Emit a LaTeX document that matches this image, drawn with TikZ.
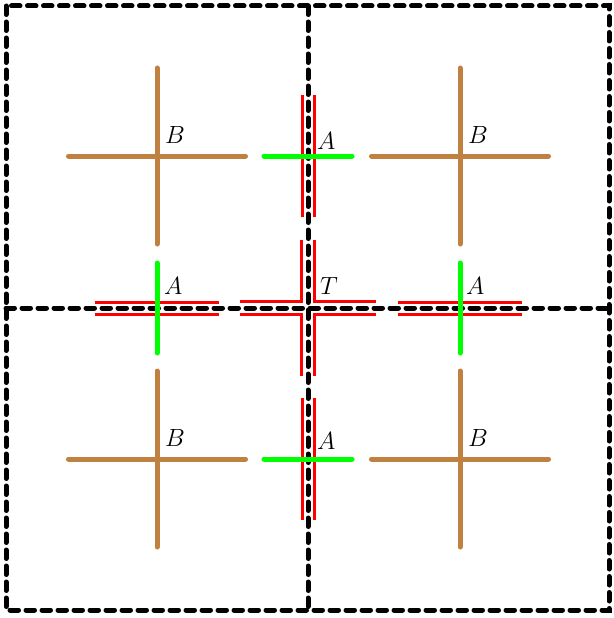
\documentclass[tikz,border=0pt]{standalone}
\usetikzlibrary{calc}
\begin{document}
\begin{tikzpicture}[x=1pt,y=-1pt,
  gridline/.style={line width=5pt, dash pattern=on 8.5pt off 7.5pt, line cap=round},
  barm/.style={brown, line width=5pt, line cap=round},
  garm/.style={green, line width=5pt, line cap=round},
  rline/.style={red, line width=3pt},
  lab/.style={anchor=base west, inner sep=0pt, font=\fontsize{28}{32}\selectfont}]
\useasboundingbox (0,0) rectangle (613,618);
% dashed grid
\coordinate (g1) at (6,6);
\coordinate (g2) at (609,610);
\coordinate (vt) at (308,6);
\coordinate (vb) at (308,610);
\coordinate (hl) at (6,308);
\coordinate (hr) at (609,308);
\draw[gridline] (g1) rectangle (g2);
\draw[gridline] (vt) -- (vb);
\draw[gridline] (hl) -- (hr);
% B crosses
\foreach \n/\x/\y in {b1/157/156, b2/460/156, b3/157/459, b4/460/459} {
  \coordinate (\n) at (\x,\y);
  \draw[barm] (\n) ++(-88.5,0) -- ++(177,0);
  \draw[barm] (\n) ++(0,-88) -- ++(0,176);
  \node[lab] (\n l) at ($(\n)+(8,-13)$) {$B$};
}
% A crosses on the vertical dashed line
\foreach \n/\x/\y/\dy in {a1/308/156/-7, a4/308/459/-10} {
  \coordinate (\n) at (\x,\y);
  \draw[rline] (\n) ++(-6,-61) -- ++(0,122);
  \draw[rline] (\n) ++(6,-61) -- ++(0,122);
  \draw[garm] (\n) ++(-44,0) -- ++(88,0);
  \node[lab] (\n l) at ($(\n)+(9,\dy)$) {$A$};
}
% A crosses on the horizontal dashed line
\foreach \n/\x/\y/\dx in {a2/157/308/7, a3/460/308/6} {
  \coordinate (\n) at (\x,\y);
  \draw[rline] (\n) ++(-62,-6) -- ++(124,0);
  \draw[rline] (\n) ++(-62,6) -- ++(124,0);
  \draw[garm] (\n) ++(0,-45) -- ++(0,90);
  \node[lab] (\n l) at ($(\n)+(\dx,-13.5)$) {$A$};
}
% T cross
\coordinate (t) at (308,308);
\foreach \sx/\sy in {-1/-1, 1/-1, -1/1, 1/1} {
  \draw[rline] ($(t)+(6.3*\sx,68*\sy)$) -- ($(t)+(6.3*\sx,6.3*\sy)$) -- ($(t)+(68*\sx,6.3*\sy)$);
}
\node[lab] (tl) at ($(t)+(12,-14)$) {$T$};
\end{tikzpicture}
\end{document}
